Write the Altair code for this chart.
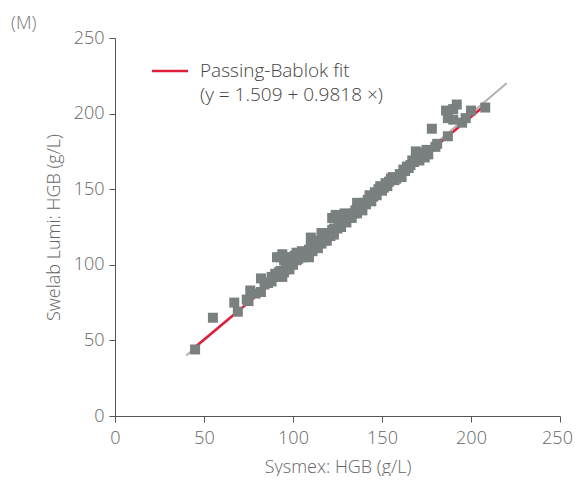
import altair as alt
import pandas as pd

# Scatter points (Sysmex x, Swelab Lumi y), g/L
sysmex = [45, 55, 67, 69, 75, 74, 76, 79, 82, 82, 84, 86, 88, 88, 90, 91, 92, 93, 94, 95,
          96, 97, 98, 91, 93, 94, 95, 96, 97, 98, 99, 100, 100, 101, 102, 102, 103, 104, 105, 106,
          107, 108, 109, 109, 110, 110, 111, 112, 113, 114, 115, 116, 116, 117, 118, 119, 120, 121, 122, 123,
          123, 124, 122, 124, 125, 126, 127, 128, 129, 130, 131, 132, 133, 134, 135, 136, 136, 137, 138, 139,
          140, 141, 142, 143, 144, 145, 146, 147, 148, 149, 150, 151, 152, 153, 154, 155, 156, 157, 158, 160,
          161, 162, 163, 164, 165, 166, 167, 168, 169, 170, 171, 172, 173, 174, 175, 176, 178, 180, 181, 186,
          187, 187, 190, 190, 192, 195, 197, 200, 208]
lumi = [44, 65, 75, 69, 76, 77, 83, 81, 82, 91, 87, 88, 89, 92, 94, 92, 95, 96, 92, 95,
        97, 99, 97, 105, 105, 107, 103, 105, 101, 103, 105, 100, 104, 106, 103, 108, 104, 106, 109, 105,
        107, 108, 105, 110, 112, 118, 109, 112, 115, 111, 116, 121, 114, 118, 116, 116, 121, 119, 123, 124,
        120, 131, 131, 133, 124, 127, 125, 130, 134, 128, 131, 133, 131, 134, 136, 141, 134, 137, 139, 136,
        141, 140, 143, 146, 142, 145, 148, 146, 150, 152, 149, 151, 154, 152, 155, 157, 158, 156, 157, 160,
        158, 163, 162, 165, 164, 166, 169, 168, 175, 171, 169, 174, 172, 171, 176, 173, 190, 178, 180, 202,
        197, 185, 196, 203, 206, 194, 197, 202, 204]

identity_range = [40, 220]
fit_range = [45, 207]
fit_intercept = 1.509
fit_slope = 0.9818

x_ticks = [0, 50, 100, 150, 200, 250]
y_ticks = [0, 50, 100, 150, 200, 250]

FONT = "Open Sans"
LABEL_COLOR = "#666666"
AXIS_COLOR = "#555555"

pts = pd.DataFrame({"x": sysmex, "y": lumi})
ident = pd.DataFrame({"x": identity_range, "y": identity_range})
fit = pd.DataFrame({"x": fit_range, "y": [fit_intercept + fit_slope * v for v in fit_range]})

xscale = alt.Scale(domain=[0, 250], nice=False, zero=False)
yscale = alt.Scale(domain=[0, 250], nice=False, zero=False)

xaxis = alt.Axis(values=x_ticks, title="Sysmex: HGB (g/L)", grid=False,
                 domainColor=AXIS_COLOR, tickColor=AXIS_COLOR, tickSize=6,
                 labelFont=FONT, labelFontSize=18, labelColor=LABEL_COLOR, labelFontWeight=300,
                 labelPadding=7, titleFont=FONT, titleFontSize=18, titleColor=LABEL_COLOR,
                 titleFontWeight=300, titlePadding=11, labelFlush=False,
                 labelOffset={"condition": {"test": "datum.value == 250", "value": -3}, "value": 0})
yaxis = alt.Axis(values=y_ticks, title="Swelab Lumi: HGB (g/L)", grid=False,
                 domainColor=AXIS_COLOR, tickColor=AXIS_COLOR, tickSize=6,
                 labelFont=FONT, labelFontSize=18, labelColor=LABEL_COLOR, labelFontWeight=300,
                 labelPadding=5, titleFont=FONT, titleFontSize=18, titleColor=LABEL_COLOR,
                 titleFontWeight=300, titlePadding=10, labelFlush=False)

ident_line = alt.Chart(ident).mark_line(color="#b0b0b0", strokeWidth=2).encode(
    x=alt.X("x:Q", scale=xscale, axis=xaxis),
    y=alt.Y("y:Q", scale=yscale, axis=yaxis),
)
fit_line = alt.Chart(fit).mark_line(color="#e0203a", strokeWidth=2.5).encode(
    x=alt.X("x:Q", scale=xscale), y=alt.Y("y:Q", scale=yscale)
)
points = alt.Chart(pts).mark_square(size=100, color="#7a7f7f", opacity=1).encode(
    x=alt.X("x:Q", scale=xscale), y=alt.Y("y:Q", scale=yscale)
)

one = pd.DataFrame({"k": [0]})
leg_rule = alt.Chart(one).mark_rule(color="#e0203a", strokeWidth=2.5).encode(
    x=alt.value(37), x2=alt.value(73), y=alt.value(33)
)
leg_t1 = alt.Chart(one).mark_text(align="left", baseline="middle", font=FONT, fontSize=19,
                                  fontWeight=300, color="#444444").encode(
    x=alt.value(85), y=alt.value(33), text=alt.value("Passing-Bablok fit")
)
leg_t2 = alt.Chart(one).mark_text(align="left", baseline="middle", font=FONT, fontSize=19,
                                  fontWeight=300, color="#444444").encode(
    x=alt.value(85), y=alt.value(57), text=alt.value("(y = 1.509 + 0.9818 \u00d7)")
)
panel = alt.Chart(one).mark_text(align="left", baseline="middle", font=FONT, fontSize=18,
                                 fontWeight=300, color="#777777").encode(
    x=alt.value(-104), y=alt.value(-14), text=alt.value("(M)")
)

chart = alt.layer(ident_line, fit_line, points, leg_rule, leg_t1, leg_t2, panel).properties(
    width=445, height=378,
    autosize=alt.AutoSizeParams(type="none"),
    padding={"left": 107, "top": 30, "right": 14, "bottom": 60},
).configure_view(stroke=None)

chart.save("out.html", embed_options={"renderer": "svg", "actions": False})
